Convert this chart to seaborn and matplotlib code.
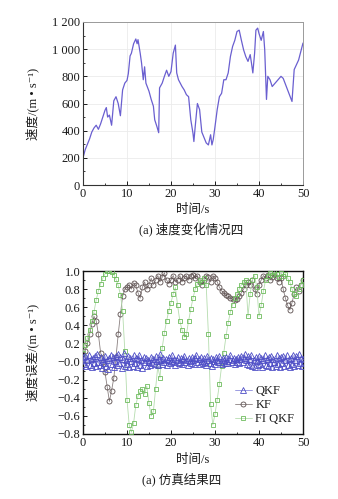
import matplotlib
matplotlib.use("Agg")
import matplotlib.pyplot as plt
from matplotlib.ticker import MultipleLocator, FuncFormatter
import numpy as np
import pandas as pd
import seaborn as sns

# ---- speed profile (time in s, speed in m/s) ----
t_speed = [0, 0.5, 1, 1.5, 2, 2.5, 3, 3.5, 4, 4.5,
           5, 5.3, 5.6, 6, 6.5, 7, 7.5, 8, 8.5, 9,
           9.5, 10, 10.3, 10.7, 11, 11.5, 12, 12.3, 12.5, 13,
           13.3, 13.7, 14, 14.3, 15, 15.5, 16, 16.3, 16.8, 17.2,
           17.4, 18, 18.5, 19, 19.5, 20, 20.5, 21, 21.3, 21.7,
           22.5, 23, 23.5, 24, 24.5, 25, 25.2, 25.5, 26, 26.5,
           27, 28, 28.5, 29, 29.3, 29.6, 30, 30.5, 31, 31.5,
           32, 32.5, 33, 33.5, 34, 34.5, 35, 35.5, 36, 36.5,
           37, 37.5, 38, 38.3, 38.6, 39, 39.3, 39.7, 40, 40.5,
           41, 41.3, 41.7, 42, 42.5, 43, 45, 45.5, 47.5, 48,
           49, 50]
speed = [200, 260, 300, 340, 390, 420, 440, 410, 450, 500,
         550, 570, 500, 515, 440, 620, 650, 600, 510, 700,
         750, 770, 820, 950, 970, 1040, 1075, 1040, 1070, 970,
         900, 775, 870, 750, 690, 630, 580, 480, 430, 385,
         715, 750, 800, 845, 800, 835, 970, 1030, 825, 775,
         725, 700, 665, 650, 480, 380, 320, 430, 600, 555,
         390, 310, 295, 370, 295, 335, 430, 555, 650, 675,
         775, 775, 825, 945, 1020, 1065, 1130, 1140, 1065, 995,
         945, 910, 960, 895, 825, 970, 1140, 1155, 1115, 1065,
         1130, 995, 630, 800, 775, 725, 800, 785, 615, 850,
         920, 1045]

# ---- velocity errors of the three filters ----
t_half = [i * 0.5 for i in range(101)]
t_quarter = [i * 0.25 for i in range(201)]

err_kf = [0.05, 0.12, 0.20, 0.30, 0.42, 0.50, 0.45, 0.30, 0.10, 0.00,
          -0.12, -0.28, -0.44, -0.32, -0.18, 0.05, 0.30, 0.52, 0.72, 0.80,
          0.82, 0.85, 0.80, 0.87, 0.84, 0.76, 0.70, 0.82, 0.88, 0.80,
          0.85, 0.92, 0.85, 0.90, 0.95, 0.88, 0.93, 0.98, 0.90, 0.86,
          0.90, 0.95, 0.88, 0.90, 0.95, 0.88, 0.92, 0.95, 0.90, 0.95,
          0.96, 0.92, 0.95, 0.88, 0.85, 0.90, 0.95, 0.93, 0.88, 0.95,
          0.92, 0.88, 0.82, 0.78, 0.76, 0.73, 0.72, 0.70, 0.69, 0.68,
          0.69, 0.72, 0.76, 0.80, 0.84, 0.88, 0.85, 0.90, 0.80, 0.75,
          0.85, 0.90, 0.95, 0.92, 0.96, 0.90, 0.93, 0.97, 0.92, 0.88,
          0.92, 0.80, 0.70, 0.62, 0.57, 0.65, 0.75, 0.82, 0.78, 0.85,
          0.90]

err_fiqkf = [0.10, 0.18, 0.26, 0.35, 0.45, 0.55, 0.68, 0.78, 0.86, 0.92,
             0.97, 1.00, 1.00, 0.99, 0.96, 0.91, 0.84, 0.74, 0.56, 0.12,
             -0.42, -0.70, -0.78, -0.68, -0.48, -0.38, -0.33, -0.30, -0.36, -0.27,
             -0.46, -0.60, -0.55, -0.30, -0.05, -0.18, 0.15, 0.32, 0.45, 0.56,
             0.65, 0.75, 0.82, 0.62, 0.45, 0.35, 0.27, 0.30, 0.45, 0.58,
             0.70, 0.80, 0.86, 0.90, 0.88, 0.92, 0.85, 0.30, -0.47, -0.70,
             -0.58, -0.42, -0.25, -0.05, 0.10, 0.28, 0.43, 0.55, 0.63, 0.70,
             0.75, 0.80, 0.85, 0.88, 0.90, 0.50, 0.75, 0.90, 0.95, 0.82,
             0.50, 0.62, 0.78, 0.90, 0.95, 0.98, 0.96, 0.99, 0.97, 0.93,
             0.98, 0.95, 0.97, 0.92, 0.88, 0.80, 0.75, 0.72, 0.80, 0.85,
             0.90]

err_qkf = [0.05, -0.03, 0.06, -0.05, 0.02, 0.07, -0.04, 0.03, -0.06, 0.04,
           -0.02, 0.06, -0.05, 0.08, 0.00, -0.04, 0.05, -0.07, 0.03, -0.02,
           0.06, -0.05, 0.02, -0.08, 0.04, 0.07, -0.03, 0.05, -0.06, 0.01,
           0.06, -0.04, 0.08, -0.02, 0.05, -0.07, 0.03, 0.09, -0.05, 0.02,
           -0.03, 0.06, -0.06, 0.04, 0.01, -0.05, 0.07, -0.02, 0.04, -0.06,
           0.03, 0.07, -0.04, 0.02, -0.07, 0.05, -0.01, 0.04, -0.05, 0.02,
           0.00, -0.04, 0.05, -0.02, 0.03, -0.03, 0.06, 0.01, -0.04, 0.03,
           0.08, 0.02, -0.03, 0.04, -0.01, 0.03, -0.04, 0.02, 0.05, -0.02,
           0.01, 0.07, -0.01, 0.03, -0.04, 0.02, 0.05, -0.02, 0.00, 0.04,
           -0.03, 0.03, 0.06, -0.01, 0.02, -0.04, 0.04, 0.01, -0.02, 0.05,
           0.02, -0.03, 0.04, 0.07, -0.01, 0.03, -0.03, 0.05, 0.01, -0.02,
           0.04, 0.00, -0.04, 0.06, 0.02, -0.02, 0.04, -0.05, 0.03, 0.01,
           -0.03, 0.05, 0.02, -0.01, 0.06, 0.00, -0.03, 0.04, 0.02, -0.02,
           0.05, 0.01, -0.02, 0.03, 0.07, -0.01, 0.02, 0.04, -0.03, 0.03,
           0.00, 0.05, -0.02, 0.03, 0.06, -0.01, 0.04, 0.08, 0.02, -0.03,
           0.06, -0.04, 0.03, 0.07, -0.05, 0.02, -0.06, 0.05, 0.01, -0.04,
           0.06, -0.03, 0.04, -0.06, 0.02, 0.07, -0.04, 0.03, -0.05, 0.05,
           -0.02, 0.06, -0.06, 0.03, 0.00, -0.05, 0.07, -0.03, 0.04, -0.06,
           0.05, -0.02, 0.06, -0.05, 0.02, 0.07, -0.04, 0.03, -0.06, 0.04,
           -0.03, 0.07, -0.05, 0.02, 0.06, -0.04, 0.08, -0.02, 0.04, -0.05,
           0.03]

speed_yticks = [0, 200, 400, 600, 800, 1000, 1200]
speed_yticklabels = ["0", "200", "400", "600", "800", "1 000", "1 200"]
time_xticks = [0, 10, 20, 30, 40, 50]

# ---- style ----
sns.set_theme(style="white")
SERIF = ["Liberation Serif", "Noto Sans CJK SC", "DejaVu Sans"]
plt.rcParams["font.family"] = SERIF
plt.rcParams["axes.unicode_minus"] = True
TXT = "#1a1a1a"
FS = 9

fig = plt.figure(figsize=(3.38, 4.99), dpi=100)
fig.patch.set_facecolor("white")
W, H = 338, 499
ax1 = fig.add_axes([83 / W, 1 - 185 / H, 220 / W, 163 / H])
ax2 = fig.add_axes([83 / W, 1 - 434 / H, 220 / W, 163 / H])


def style_ticks(ax):
    ax.tick_params(which="both", direction="in", colors=TXT, labelsize=FS, pad=2)
    ax.tick_params(which="major", length=3, width=0.7)
    ax.tick_params(which="minor", length=1.6, width=0.6)
    ax.tick_params(axis="both", which="both", left=True, bottom=True)
    for lab in ax.get_xticklabels() + ax.get_yticklabels():
        lab.set_fontfamily(SERIF)


# ---- top panel: speed over time ----
sns.lineplot(x=t_speed, y=speed, ax=ax1, color="#6a5fd0", lw=0.9,
             estimator=None, sort=False)
ax1.set_xlim(0, 50)
ax1.set_ylim(0, 1200)
ax1.set_xticks(time_xticks)
ax1.set_yticks(speed_yticks)
ax1.set_yticklabels(speed_yticklabels)
ax1.xaxis.set_minor_locator(MultipleLocator(5))
ax1.yaxis.set_minor_locator(MultipleLocator(100))
ax1.grid(True, which="major", color="#ebebeb", lw=0.6)
for side in ["left", "bottom"]:
    ax1.spines[side].set_color("#333333")
    ax1.spines[side].set_linewidth(0.8)
for side in ["top", "right"]:
    ax1.spines[side].set_color("#9a9a9a")
    ax1.spines[side].set_linewidth(0.7)
style_ticks(ax1)
ax1.set_xlabel("时间/s", fontsize=FS, color=TXT, family=SERIF)
ax1.xaxis.set_label_coords(0.5, -0.115)
ax1.set_ylabel("速度/(m • s⁻¹)", fontsize=FS, color=TXT, family=SERIF)
ax1.yaxis.set_label_coords(-0.2, 0.5)
fig.text(191 / W, 1 - 229 / H, "(a) 速度变化情况四", fontsize=FS, color=TXT,
         ha="center", va="center", family=SERIF)

# ---- bottom panel: velocity error of each filter ----
kf_color, kf_line = "#5b4e4e", "#8a8080"
fi_color, fi_line = "#6dbb5c", "#b5dcae"
q_color, q_line = "#4d4dc6", "#8c8cdc"

sns.lineplot(x=t_half, y=err_kf, ax=ax2, color=kf_line, lw=0.6,
             marker="o", markersize=3.6, markerfacecolor="none",
             markeredgecolor=kf_color, markeredgewidth=0.6,
             estimator=None, sort=False, label="KF", zorder=2)
sns.lineplot(x=t_half, y=err_fiqkf, ax=ax2, color=fi_line, lw=0.6,
             marker="s", markersize=3.4, markerfacecolor="none",
             markeredgecolor=fi_color, markeredgewidth=0.6,
             estimator=None, sort=False, label="FI QKF", zorder=3)
sns.lineplot(x=t_quarter, y=err_qkf, ax=ax2, color=q_line, lw=0.6,
             marker="^", markersize=3.8, markerfacecolor="none",
             markeredgecolor=q_color, markeredgewidth=0.6,
             estimator=None, sort=False, label="QKF", zorder=4)

ax2.set_xlim(0, 50)
ax2.set_ylim(-0.8, 1.0)
ax2.set_xticks(time_xticks)
ax2.set_yticks(np.round(np.arange(-0.8, 1.01, 0.2), 1))
ax2.yaxis.set_major_formatter(FuncFormatter(lambda v, p: f"{v:.1f}".replace("-", "\u2212")))
ax2.xaxis.set_minor_locator(MultipleLocator(5))
ax2.yaxis.set_minor_locator(MultipleLocator(0.1))
ax2.grid(False)
for side in ax2.spines.values():
    side.set_color("#111111")
    side.set_linewidth(1.0)
style_ticks(ax2)
ax2.set_xlabel("时间/s", fontsize=FS, color=TXT, family=SERIF)
ax2.xaxis.set_label_coords(0.5, -0.125)
ax2.set_ylabel("速度误差/(m • s⁻¹)", fontsize=FS, color=TXT, family=SERIF)
ax2.yaxis.set_label_coords(-0.2, 0.5)

handles, labels = ax2.get_legend_handles_labels()
order = [labels.index(n) for n in ["QKF", "KF", "FI QKF"]]
leg = ax2.legend([handles[i] for i in order], [labels[i] for i in order],
                 loc="lower right", frameon=False,
                 handlelength=1.3, handletextpad=0.3, labelspacing=0.15,
                 borderaxespad=0.3, prop={"family": SERIF, "size": FS})
for txt in leg.get_texts():
    txt.set_color(TXT)

fig.text(182 / W, 1 - 479 / H, "(a) 仿真结果四", fontsize=FS, color=TXT,
         ha="center", va="center", family=SERIF)

fig.savefig("out.png", dpi=100, facecolor="white")
